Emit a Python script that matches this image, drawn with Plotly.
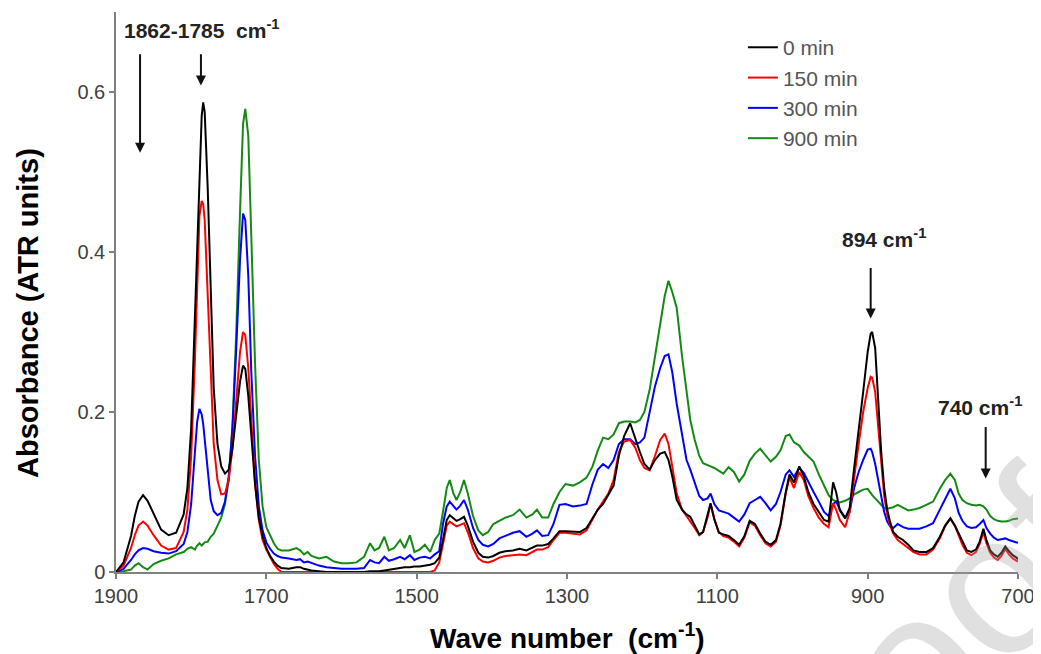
import plotly.graph_objects as go

# ---------------- data ----------------
wavenumber = [
    1900, 1890, 1880, 1875, 1870, 1864, 1858, 1850, 1840, 1830, 1820, 1810, 1805, 1800,
    1795, 1792, 1789, 1786, 1784, 1782, 1778, 1774, 1770, 1765, 1760, 1755, 1750, 1745,
    1740, 1735, 1731, 1728, 1724, 1720, 1715, 1710, 1705, 1700, 1695, 1690, 1685, 1680,
    1670, 1660, 1655, 1650, 1645, 1640, 1630, 1620, 1610, 1600, 1590, 1580, 1570, 1562,
    1556, 1550, 1543, 1537, 1530, 1522, 1516, 1509, 1503, 1496, 1489, 1482, 1476, 1470,
    1465, 1460, 1456, 1451, 1447, 1442, 1437, 1432, 1425, 1418, 1412, 1405, 1398, 1390, 1382,
    1372, 1363, 1354, 1346, 1340, 1333, 1325, 1318, 1310, 1302, 1292, 1283, 1274, 1266,
    1259, 1252, 1245, 1238, 1231, 1224, 1216, 1209, 1203, 1197, 1190, 1183, 1176, 1170,
    1165, 1160, 1154, 1147, 1141,
    1136, 1130, 1124, 1119, 1113, 1109, 1104, 1098, 1092, 1085, 1078, 1071, 1064, 1057,
    1050, 1043, 1036, 1029, 1022, 1016, 1009, 1004, 998, 991, 985, 979, 972, 965, 958,
    952, 946, 942, 937, 930, 924, 918, 912, 906, 900,
    896, 894, 890, 886, 882, 878, 874, 870, 866, 860, 853, 846, 839, 831, 822, 813, 804,
    797, 790, 784, 779, 774, 768, 762, 756, 751, 746, 742, 737, 732, 727, 722, 717, 712,
    707, 702, 700,
]

abs_0min = [
    0.000, 0.012, 0.045, 0.070, 0.088, 0.096, 0.089, 0.072, 0.053, 0.046, 0.049, 0.072, 0.105, 0.180,
    0.320, 0.420, 0.510, 0.570, 0.587, 0.575, 0.480, 0.340, 0.230, 0.160, 0.132, 0.123, 0.128, 0.155,
    0.195, 0.238, 0.258, 0.254, 0.220, 0.170, 0.110, 0.068, 0.045, 0.030, 0.020, 0.013, 0.008, 0.005,
    0.004, 0.006, 0.006, 0.004, 0.003, 0.002, 0.001, 0.000, 0.000, 0.000, 0.000, 0.000, 0.000, 0.001,
    0.001, 0.001, 0.002, 0.003, 0.004, 0.005, 0.006, 0.006, 0.007, 0.007, 0.008, 0.009, 0.011, 0.018,
    0.040, 0.065, 0.071, 0.067, 0.064, 0.066, 0.069, 0.058, 0.038, 0.024, 0.019, 0.018, 0.020, 0.024, 0.026,
    0.027, 0.029, 0.027, 0.031, 0.033, 0.033, 0.035, 0.042, 0.051, 0.051, 0.050, 0.050, 0.055, 0.068,
    0.078, 0.085, 0.097, 0.108, 0.145, 0.170, 0.186, 0.165, 0.150, 0.135, 0.128, 0.140, 0.148, 0.150,
    0.140, 0.120, 0.090, 0.078, 0.072,
    0.069, 0.058, 0.047, 0.050, 0.072, 0.086, 0.066, 0.049, 0.047, 0.045, 0.040, 0.034, 0.045, 0.064,
    0.060, 0.048, 0.038, 0.034, 0.040, 0.060, 0.100, 0.122, 0.112, 0.132, 0.120, 0.100, 0.085, 0.075, 0.065,
    0.063, 0.112, 0.100, 0.077, 0.067, 0.080, 0.130, 0.175, 0.225, 0.275,
    0.298, 0.300, 0.280, 0.215, 0.150, 0.105, 0.078, 0.062, 0.050, 0.044, 0.040, 0.034, 0.027, 0.025, 0.025, 0.030, 0.044,
    0.058, 0.067, 0.058, 0.048, 0.037, 0.027, 0.025, 0.028, 0.038, 0.054, 0.040, 0.027, 0.022, 0.019, 0.024, 0.032, 0.026,
    0.021, 0.018, 0.016,
]

abs_150min = [
    0.000, 0.008, 0.030, 0.046, 0.058, 0.063, 0.058, 0.046, 0.033, 0.028, 0.030, 0.050, 0.078, 0.145,
    0.265, 0.370, 0.445, 0.464, 0.460, 0.440, 0.350, 0.240, 0.160, 0.115, 0.097, 0.098, 0.115, 0.155,
    0.215, 0.275, 0.300, 0.296, 0.255, 0.185, 0.110, 0.065, 0.040, 0.028, 0.018, 0.010, 0.004, 0.000,
    0.000, 0.000, 0.000, 0.000, 0.000, 0.000, 0.000, 0.000, 0.000, 0.000, 0.000, 0.000, 0.000, 0.000,
    0.000, 0.000, 0.000, 0.000, 0.000, 0.000, 0.000, 0.000, 0.000, 0.000, 0.000, 0.000, 0.002, 0.012,
    0.035, 0.058, 0.063, 0.060, 0.057, 0.059, 0.061, 0.050, 0.030, 0.017, 0.013, 0.012, 0.014, 0.018, 0.020,
    0.021, 0.022, 0.021, 0.025, 0.028, 0.028, 0.031, 0.040, 0.049, 0.049, 0.048, 0.047, 0.052, 0.066,
    0.078, 0.088, 0.098, 0.115, 0.150, 0.163, 0.165, 0.155, 0.140, 0.130, 0.127, 0.145, 0.165, 0.173,
    0.160, 0.132, 0.098, 0.078, 0.070,
    0.064, 0.055, 0.046, 0.050, 0.068, 0.085, 0.066, 0.050, 0.045, 0.043, 0.038, 0.032, 0.043, 0.062,
    0.058, 0.046, 0.036, 0.032, 0.038, 0.058, 0.098, 0.118, 0.105, 0.125, 0.115, 0.095, 0.080, 0.068, 0.060,
    0.056, 0.086, 0.078, 0.065, 0.056, 0.075, 0.120, 0.160, 0.200, 0.230,
    0.244, 0.243, 0.225, 0.180, 0.130, 0.095, 0.072, 0.058, 0.048, 0.040, 0.035, 0.030, 0.025, 0.022, 0.022, 0.028, 0.042,
    0.057, 0.067, 0.058, 0.046, 0.034, 0.024, 0.021, 0.025, 0.035, 0.050, 0.036, 0.024, 0.018, 0.015, 0.020, 0.029, 0.022,
    0.017, 0.014, 0.013,
]

abs_300min = [
    0.000, 0.004, 0.015, 0.022, 0.027, 0.030, 0.029, 0.026, 0.024, 0.023, 0.026, 0.035, 0.050, 0.085,
    0.150, 0.188, 0.204, 0.197, 0.185, 0.165, 0.120, 0.090, 0.076, 0.071, 0.074, 0.088, 0.120, 0.180,
    0.280, 0.390, 0.448, 0.440, 0.370, 0.250, 0.145, 0.082, 0.052, 0.037, 0.029, 0.023, 0.020, 0.018,
    0.017, 0.015, 0.016, 0.012, 0.013, 0.011, 0.008, 0.006, 0.005, 0.004, 0.004, 0.004, 0.005, 0.015,
    0.012, 0.011, 0.019, 0.014, 0.016, 0.019, 0.016, 0.021, 0.015, 0.018, 0.019, 0.017, 0.022, 0.026,
    0.060, 0.082, 0.088, 0.082, 0.078, 0.083, 0.090, 0.078, 0.055, 0.040, 0.034, 0.032, 0.035, 0.042, 0.045,
    0.049, 0.051, 0.044, 0.048, 0.052, 0.045, 0.046, 0.060, 0.084, 0.085, 0.082, 0.083, 0.085, 0.110,
    0.128, 0.135, 0.130, 0.140, 0.160, 0.166, 0.166, 0.160, 0.162, 0.168, 0.200, 0.232, 0.255, 0.270,
    0.272, 0.250, 0.210, 0.172, 0.140,
    0.128, 0.110, 0.095, 0.090, 0.092, 0.098, 0.085, 0.077, 0.075, 0.073, 0.068, 0.063, 0.072, 0.086,
    0.090, 0.094, 0.086, 0.077, 0.085, 0.100, 0.122, 0.127, 0.119, 0.130, 0.124, 0.112, 0.100, 0.088, 0.075,
    0.070, 0.085, 0.088, 0.078, 0.068, 0.075, 0.105, 0.125, 0.140, 0.153,
    0.154, 0.150, 0.135, 0.115, 0.095, 0.075, 0.063, 0.057, 0.055, 0.060, 0.056, 0.054, 0.054, 0.054, 0.057, 0.061, 0.078,
    0.092, 0.104, 0.092, 0.074, 0.064, 0.057, 0.055, 0.056, 0.060, 0.065, 0.055, 0.048, 0.043, 0.040, 0.041, 0.042, 0.040,
    0.038, 0.037, 0.037,
]

abs_900min = [
    0.000, 0.001, 0.003, 0.008, 0.011, 0.006, 0.003, 0.010, 0.014, 0.017, 0.022, 0.025, 0.029, 0.031,
    0.028, 0.033, 0.036, 0.033, 0.035, 0.037, 0.038, 0.044, 0.048, 0.058, 0.068, 0.085, 0.115, 0.185,
    0.300, 0.450, 0.560, 0.579, 0.545, 0.420, 0.260, 0.140, 0.082, 0.056, 0.046, 0.036, 0.029, 0.027,
    0.027, 0.030, 0.027, 0.022, 0.025, 0.020, 0.017, 0.019, 0.013, 0.011, 0.011, 0.012, 0.019, 0.036,
    0.027, 0.030, 0.044, 0.027, 0.030, 0.040, 0.030, 0.046, 0.025, 0.028, 0.034, 0.025, 0.040, 0.048,
    0.075, 0.105, 0.115, 0.098, 0.090, 0.100, 0.115, 0.098, 0.070, 0.052, 0.046, 0.050, 0.060, 0.064, 0.068,
    0.071, 0.078, 0.068, 0.072, 0.078, 0.068, 0.068, 0.085, 0.100, 0.110, 0.108, 0.112, 0.118, 0.132,
    0.152, 0.168, 0.166, 0.172, 0.186, 0.188, 0.188, 0.187, 0.190, 0.200, 0.228, 0.272, 0.310, 0.345,
    0.364, 0.350, 0.330, 0.270, 0.222,
    0.190, 0.165, 0.145, 0.136, 0.134, 0.132, 0.130, 0.126, 0.123, 0.131, 0.125, 0.113, 0.122, 0.139,
    0.148, 0.154, 0.146, 0.138, 0.144, 0.152, 0.170, 0.172, 0.162, 0.158, 0.150, 0.144, 0.138, 0.122, 0.108,
    0.096, 0.090, 0.088, 0.087, 0.089, 0.092, 0.097, 0.100, 0.103, 0.104,
    0.098, 0.096, 0.092, 0.088, 0.084, 0.080, 0.079, 0.080, 0.081, 0.084, 0.081, 0.077, 0.078, 0.080, 0.084, 0.088, 0.104,
    0.115, 0.123, 0.115, 0.098, 0.090, 0.086, 0.084, 0.083, 0.084, 0.082, 0.078, 0.070, 0.066, 0.064, 0.063, 0.063, 0.064,
    0.066, 0.067, 0.067,
]

series_names = ["0 min", "150 min", "300 min", "900 min"]
series_values = [abs_0min, abs_150min, abs_300min, abs_900min]
series_colors = ["#000000", "#ff0000", "#0000ff", "#148a14"]

x_ticks = [1900, 1700, 1500, 1300, 1100, 900, 700]
y_ticks = [0, 0.2, 0.4, 0.6]
y_tick_labels = ["0", "0.2", "0.4", "0.6"]

# peak labels: (text, x, y) and arrows: (x_tip, y_tip, x_tail, y_tail)
peak_labels = [("1862-1785  cm<sup>-1</sup>", 1785, 0.679),
               ("894 cm<sup>-1</sup>", 878, 0.418),
               ("740 cm<sup>-1</sup>", 751, 0.207)]
peak_arrows = [(1868, 0.524, 1868, 0.649),
               (1787, 0.608, 1787, 0.649),
               (896, 0.317, 896, 0.382),
               (743, 0.117, 743, 0.183)]

FONT = "Liberation Sans, Arial, sans-serif"

fig = go.Figure()
# draw 900 min first so 0 min lies on top; legendrank keeps 0 min first in the legend
for rank, (name, vals, col) in reversed(list(enumerate(zip(series_names, series_values, series_colors)))):
    fig.add_trace(go.Scatter(
        x=wavenumber, y=vals, mode="lines", name=name, legendrank=rank + 1,
        line=dict(color=col, width=2), hoverinfo="skip",
    ))

annotations = []
for txt, xv, yv in peak_labels:
    annotations.append(dict(x=xv, y=yv, xref="x", yref="y", text="<b>" + txt + "</b>",
                            showarrow=False, font=dict(family=FONT, size=21, color="#222222"),
                            xanchor="center", yanchor="middle"))
for xt, yt, xa, ya in peak_arrows:
    annotations.append(dict(x=xt, y=yt, ax=xa, ay=ya, xref="x", yref="y", axref="x", ayref="y",
                            text="", showarrow=True, arrowhead=2, arrowsize=1, arrowwidth=2,
                            arrowcolor="#111111", standoff=0, startstandoff=0))
# axis titles
annotations.append(dict(x=-0.0976, y=0.4625, xref="paper", yref="paper", textangle=-90,
                        text="<b>Absorbance (ATR units)</b>", showarrow=False,
                        font=dict(family=FONT, size=29, color="#000000"),
                        xanchor="center", yanchor="middle"))
annotations.append(dict(x=0.5, y=-0.114, xref="paper", yref="paper",
                        text="<b>Wave number  (cm<sup>-1</sup>)</b>", showarrow=False,
                        font=dict(family=FONT, size=28, color="#000000"),
                        xanchor="center", yanchor="middle"))
# faint watermark
annotations.append(dict(x=0.948, y=-0.061, xref="paper", yref="paper", textangle=-45,
                        text="oof", showarrow=False,
                        font=dict(family=FONT, size=200, color="rgba(160,160,160,0.32)"),
                        xanchor="center", yanchor="middle"))

# the page body has an 8 px margin: the figure is 8 px smaller, left/top margins shifted
fig.update_layout(
    width=1033, height=646,
    margin=dict(l=108, r=23, t=4, b=82),
    paper_bgcolor="white", plot_bgcolor="white",
    showlegend=True,
    legend=dict(x=0.695, y=0.973, xanchor="left", yanchor="top",
                traceorder="normal",
                font=dict(family=FONT, size=21, color="#555555"),
                bgcolor="rgba(255,255,255,0)", borderwidth=0),
    annotations=annotations,
    xaxis=dict(range=[1900, 700], tickmode="array", tickvals=x_ticks,
               ticks="outside", ticklen=5, tickwidth=1.5, tickcolor="#808080",
               showline=True, linecolor="#808080", linewidth=1.5,
               showgrid=False, zeroline=False,
               tickfont=dict(family=FONT, size=20, color="#404040")),
    yaxis=dict(range=[0, 0.7], tickmode="array", tickvals=y_ticks, ticktext=y_tick_labels,
               ticks="outside", ticklen=5, tickwidth=1.5, tickcolor="#808080",
               showline=True, linecolor="#808080", linewidth=1.5,
               showgrid=False, zeroline=False,
               tickfont=dict(family=FONT, size=20, color="#404040")),
)

fig.write_html("out.html")
